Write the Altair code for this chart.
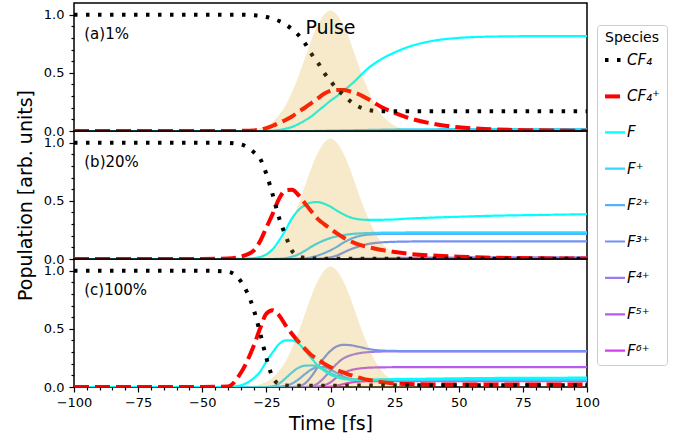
import altair as alt
import pandas as pd

# ---------------- data ----------------
T = [-100, -50, -40, -35, -30, -27.5, -25, -22.5, -20, -17.5, -15, -12.5, -10, -7.5, -5,
     -2.5, 0, 2.5, 5, 7.5, 10, 12.5, 15, 17.5, 20, 25, 30, 40, 50, 60, 80, 100]

PULSE = [0, 0, 0, 0.002, 0.011, 0.024, 0.045, 0.08, 0.14, 0.22, 0.335, 0.47, 0.625, 0.78, 0.91,
         1.0, 1.035, 1.0, 0.91, 0.78, 0.625, 0.47, 0.335, 0.22, 0.14, 0.045, 0.011, 0, 0, 0, 0, 0]

SPECIES = ["CF₄", "CF₄⁺", "F", "F⁺", "F²⁺", "F³⁺", "F⁴⁺", "F⁵⁺", "F⁶⁺"]
COLORS = ["#000000", "#ff0000", "#00ffff", "#33d8ff", "#55b0ff", "#7592f2", "#9c7cf2", "#b65cf2", "#d83cf0"]
DASHES = [[3.5, 8.5], [15, 6], [1, 0], [1, 0], [1, 0], [1, 0], [1, 0], [1, 0], [1, 0]]
WIDTHS = [4, 4, 2.2, 2.2, 2.2, 2.2, 2.2, 2.2, 2.2]
DRAW_ORDER = ["F⁶⁺", "F⁵⁺", "F⁴⁺", "F³⁺", "F²⁺", "F⁺", "F", "CF₄⁺", "CF₄"]

# panel (a) 1%
CF4_A = [1, 1, 1, 1, 0.995, 0.99, 0.98, 0.965, 0.945, 0.915, 0.875, 0.825, 0.755, 0.665, 0.59,
         0.5, 0.43, 0.36, 0.31, 0.26, 0.22, 0.195, 0.18, 0.173, 0.17, 0.17, 0.17, 0.17, 0.17, 0.17, 0.17, 0.17]
CF4P_A = [0, 0, 0, 0.002, 0.005, 0.012, 0.025, 0.045, 0.07, 0.095, 0.125, 0.165, 0.2, 0.24, 0.28,
          0.32, 0.345, 0.353, 0.352, 0.342, 0.325, 0.3, 0.27, 0.237, 0.205, 0.155, 0.115, 0.062, 0.032, 0.017, 0.006, 0.002]
F_A = [0, 0, 0, 0, 0, 0, 0, 0.003, 0.01, 0.02, 0.035, 0.06, 0.09, 0.125, 0.17,
       0.215, 0.26, 0.3, 0.345, 0.39, 0.44, 0.495, 0.545, 0.585, 0.62, 0.675, 0.72, 0.775, 0.8, 0.81, 0.815, 0.815]
FP_A = [0, 0, 0, 0, 0, 0, 0, 0, 0, 0, 0, 0, 0, 0, 0.001,
        0.002, 0.003, 0.004, 0.005, 0.006, 0.007, 0.008, 0.009, 0.01, 0.011, 0.013, 0.014, 0.015, 0.016, 0.016, 0.016, 0.016]

# panel (b) 20%
CF4_B = [1, 1, 0.997, 0.985, 0.92, 0.865, 0.73, 0.55, 0.35, 0.2, 0.07, 0.025, 0.01, 0.006, 0.004,
         0.003, 0.003, 0.003, 0.003, 0.003, 0.003, 0.003, 0.003, 0.003, 0.003, 0.003, 0.003, 0.003, 0.003, 0.003, 0.003, 0.003]
CF4P_B = [0, 0, 0.005, 0.02, 0.07, 0.15, 0.27, 0.39, 0.52, 0.59, 0.595, 0.55, 0.48, 0.41, 0.345,
          0.3, 0.26, 0.22, 0.185, 0.155, 0.133, 0.115, 0.1, 0.088, 0.077, 0.06, 0.046, 0.03, 0.02, 0.013, 0.006, 0.004]
F_B = [0, 0, 0, 0.002, 0.008, 0.017, 0.04, 0.085, 0.16, 0.25, 0.35, 0.42, 0.463, 0.485, 0.49,
       0.475, 0.45, 0.415, 0.385, 0.36, 0.345, 0.338, 0.336, 0.336, 0.337, 0.34, 0.347, 0.356, 0.363, 0.37, 0.378, 0.385]
FP_B = [0, 0, 0, 0, 0, 0, 0, 0, 0.002, 0.008, 0.02, 0.04, 0.07, 0.105, 0.135,
        0.16, 0.18, 0.195, 0.205, 0.213, 0.218, 0.221, 0.223, 0.225, 0.226, 0.227, 0.228, 0.228, 0.228, 0.228, 0.228, 0.228]
F2P_B = [0, 0, 0, 0, 0, 0, 0, 0, 0, 0, 0, 0.002, 0.006, 0.015, 0.03,
         0.05, 0.075, 0.105, 0.14, 0.168, 0.19, 0.203, 0.21, 0.213, 0.215, 0.216, 0.216, 0.216, 0.216, 0.216, 0.216, 0.216]
F3P_B = [0, 0, 0, 0, 0, 0, 0, 0, 0, 0, 0, 0, 0, 0, 0.002,
         0.006, 0.015, 0.03, 0.055, 0.08, 0.1, 0.118, 0.13, 0.138, 0.143, 0.148, 0.15, 0.152, 0.152, 0.152, 0.152, 0.152]
F4P_B = [0, 0, 0, 0, 0, 0, 0, 0, 0, 0, 0, 0, 0, 0, 0,
         0, 0, 0, 0, 0, 0.002, 0.003, 0.004, 0.005, 0.006, 0.008, 0.01, 0.012, 0.013, 0.014, 0.015, 0.015]

# panel (c) 100%
CF4_C = [1, 1, 0.99, 0.91, 0.67, 0.47, 0.25, 0.08, 0.025, 0.012, 0.01, 0.01, 0.01, 0.01, 0.01,
         0.01, 0.01, 0.011, 0.011, 0.012, 0.012, 0.012, 0.013, 0.013, 0.013, 0.014, 0.014, 0.015, 0.015, 0.015, 0.015, 0.015]
CF4P_C = [0, 0, 0.005, 0.12, 0.35, 0.5, 0.63, 0.66, 0.615, 0.53, 0.455, 0.39, 0.33, 0.275, 0.24,
          0.2, 0.17, 0.145, 0.125, 0.105, 0.087, 0.072, 0.06, 0.05, 0.042, 0.03, 0.025, 0.022, 0.022, 0.022, 0.022, 0.022]
F_C = [0, 0, 0, 0.015, 0.075, 0.13, 0.22, 0.3, 0.37, 0.4, 0.4, 0.375, 0.315, 0.25, 0.185,
       0.14, 0.105, 0.085, 0.07, 0.064, 0.062, 0.062, 0.063, 0.064, 0.065, 0.067, 0.069, 0.072, 0.075, 0.077, 0.079, 0.08]
FP_C = [0, 0, 0, 0, 0, 0, 0, 0.005, 0.03, 0.075, 0.125, 0.165, 0.183, 0.185, 0.175,
        0.15, 0.12, 0.095, 0.078, 0.068, 0.064, 0.062, 0.062, 0.062, 0.063, 0.063, 0.064, 0.064, 0.065, 0.065, 0.065, 0.065]
F2P_C = [0, 0, 0, 0, 0, 0, 0, 0, 0.002, 0.01, 0.03, 0.065, 0.11, 0.15, 0.17,
         0.17, 0.15, 0.12, 0.09, 0.072, 0.063, 0.06, 0.058, 0.057, 0.057, 0.057, 0.057, 0.057, 0.057, 0.057, 0.057, 0.057]
F3P_C = [0, 0, 0, 0, 0, 0, 0, 0, 0, 0, 0, 0.005, 0.03, 0.09, 0.17,
         0.25, 0.31, 0.35, 0.362, 0.36, 0.35, 0.338, 0.326, 0.318, 0.313, 0.31, 0.308, 0.308, 0.308, 0.308, 0.308, 0.308]
F4P_C = [0, 0, 0, 0, 0, 0, 0, 0, 0, 0, 0, 0, 0, 0.005, 0.03,
         0.08, 0.14, 0.2, 0.245, 0.27, 0.285, 0.295, 0.3, 0.303, 0.305, 0.307, 0.307, 0.307, 0.307, 0.307, 0.307, 0.307]
F5P_C = [0, 0, 0, 0, 0, 0, 0, 0, 0, 0, 0, 0, 0, 0, 0.003,
         0.015, 0.04, 0.085, 0.12, 0.142, 0.155, 0.162, 0.166, 0.168, 0.169, 0.17, 0.17, 0.17, 0.17, 0.17, 0.17, 0.17]
F6P_C = [0, 0, 0, 0, 0, 0, 0, 0, 0, 0, 0, 0, 0, 0, 0,
         0, 0.003, 0.012, 0.025, 0.037, 0.045, 0.048, 0.05, 0.05, 0.05, 0.05, 0.05, 0.05, 0.05, 0.05, 0.05, 0.05]

PANELS = [
    ("(a)1%", {"CF₄": CF4_A, "CF₄⁺": CF4P_A, "F": F_A, "F⁺": FP_A}),
    ("(b)20%", {"CF₄": CF4_B, "CF₄⁺": CF4P_B, "F": F_B, "F⁺": FP_B, "F²⁺": F2P_B,
                "F³⁺": F3P_B, "F⁴⁺": F4P_B}),
    ("(c)100%", {"CF₄": CF4_C, "CF₄⁺": CF4P_C, "F": F_C, "F⁺": FP_C, "F²⁺": F2P_C,
                 "F³⁺": F3P_C, "F⁴⁺": F4P_C, "F⁵⁺": F5P_C, "F⁶⁺": F6P_C}),
]

Y_MAJOR = [0, 0.5, 1.0]
Y_MINOR = [0.1, 0.2, 0.3, 0.4, 0.6, 0.7, 0.8, 0.9]
X_MAJOR = [-100, -75, -50, -25, 0, 25, 50, 75, 100]
X_MINOR = [-95, -90, -85, -80, -70, -65, -60, -55, -45, -40, -35, -30, -20, -15, -10, -5,
           5, 10, 15, 20, 30, 35, 40, 45, 55, 60, 65, 70, 80, 85, 90, 95]

# ---------------- chart ----------------
FONT = "DejaVu Sans"
W, H = 513, 128
xscale = alt.Scale(domain=[-100, 100], nice=False, zero=False)
yscale = alt.Scale(domain=[0, 1.1], nice=False, zero=False)
pulse_df = pd.DataFrame({"t": T, "v": PULSE})
one_row = pd.DataFrame({"k": [0]})

legend = alt.Legend(
    title="Species", orient="none", legendX=523, legendY=22,
    symbolType="stroke", symbolSize=400, symbolOpacity=1,
    labelFontSize=15, labelFontStyle="italic", labelFont=FONT, labelOffset=0,
    titleFontSize=14, titleFontWeight="normal", titleFont=FONT, titleAnchor="middle",
    titlePadding=3, padding=6, rowPadding=16.4, strokeColor="#cccccc",
    cornerRadius=3, fillColor="white", labelColor="black", titleColor="black",
)


def panel(label, series, bottom, mid):
    rows = []
    for sp in DRAW_ORDER:
        if sp in series:
            for t, v in zip(T, series[sp]):
                rows.append({"t": t, "v": v, "species": sp})
    df = pd.DataFrame(rows)

    if bottom:
        xmain = alt.Axis(values=X_MAJOR, tickSize=5, labelFontSize=13, labelPadding=4,
                         title="Time [fs]", titleFontSize=19, titlePadding=5,
                         labelFlush=False, grid=False, domain=False)
        xminor = alt.Axis(values=X_MINOR, tickSize=3, labels=False, domain=False,
                          grid=False, title=None, orient="bottom")
    else:
        xmain = None
        xminor = None

    ymain = alt.Axis(values=Y_MAJOR, format=".1f", tickSize=5, labelFontSize=13,
                     labelPadding=5, labelFlush=False, labelOverlap=False, grid=False,
                     domain=False,
                     title="Population [arb. units]" if mid else None,
                     titleFontSize=19, titlePadding=8)
    yminor = alt.Axis(values=Y_MINOR, tickSize=3, labels=False, domain=False,
                      grid=False, title=None, orient="left")

    lines = alt.Chart(df).mark_line(interpolate="monotone", clip=True, strokeCap="butt").encode(
        x=alt.X("t:Q", scale=xscale, axis=xmain),
        y=alt.Y("v:Q", scale=yscale, axis=ymain),
        color=alt.Color("species:N", scale=alt.Scale(type="ordinal", domain=SPECIES, range=COLORS),
                        legend=legend),
        strokeDash=alt.StrokeDash("species:N",
                                  scale=alt.Scale(type="ordinal", domain=SPECIES, range=DASHES),
                                  legend=legend),
        strokeWidth=alt.StrokeWidth("species:N",
                                    scale=alt.Scale(type="ordinal", domain=SPECIES, range=WIDTHS),
                                    legend=legend),
    )
    minor = alt.Chart(pulse_df).mark_point(opacity=0).encode(
        x=alt.X("t:Q", scale=xscale, axis=xminor),
        y=alt.Y("v:Q", scale=yscale, axis=yminor),
    )
    pulse = alt.Chart(pulse_df).mark_area(color="#daa520", opacity=0.23,
                                          interpolate="monotone", clip=True).encode(
        x=alt.X("t:Q", scale=xscale, axis=None),
        y=alt.Y("v:Q", scale=yscale, axis=None),
    )
    tag = alt.Chart(one_row).mark_text(text=label, align="left", baseline="middle",
                                       fontSize=15, font=FONT, color="black").encode(
        x=alt.X(datum=-96, scale=xscale, axis=None),
        y=alt.Y(datum=0.835, scale=yscale, axis=None),
    )
    layers = [lines, minor, pulse, tag]
    if label.startswith("(a)"):
        ptxt = alt.Chart(one_row).mark_text(text="Pulse", align="center", baseline="middle",
                                            fontSize=19, font=FONT, color="black").encode(
            x=alt.X(datum=0, scale=xscale, axis=None),
            y=alt.Y(datum=0.885, scale=yscale, axis=None),
        )
        layers.append(ptxt)
    return alt.layer(*layers).resolve_axis(x="independent", y="independent").properties(
        width=W, height=H)


charts = [panel(lbl, ser, i == 2, i == 1) for i, (lbl, ser) in enumerate(PANELS)]

chart = alt.vconcat(*charts, spacing=0, bounds="flush").resolve_scale(
    color="shared", strokeDash="shared", strokeWidth="shared"
).properties(
    padding={"left": 15, "top": 2, "right": 5, "bottom": 5},
    background="white",
).configure_view(
    stroke="black", strokeWidth=1.5
).configure_axis(
    domainColor="black", tickColor="black", labelColor="black", titleColor="black",
    labelFont=FONT, titleFont=FONT, titleFontWeight="normal", tickWidth=1.2,
)

chart.save("out.html", embed_options={"renderer": "svg", "actions": False})
